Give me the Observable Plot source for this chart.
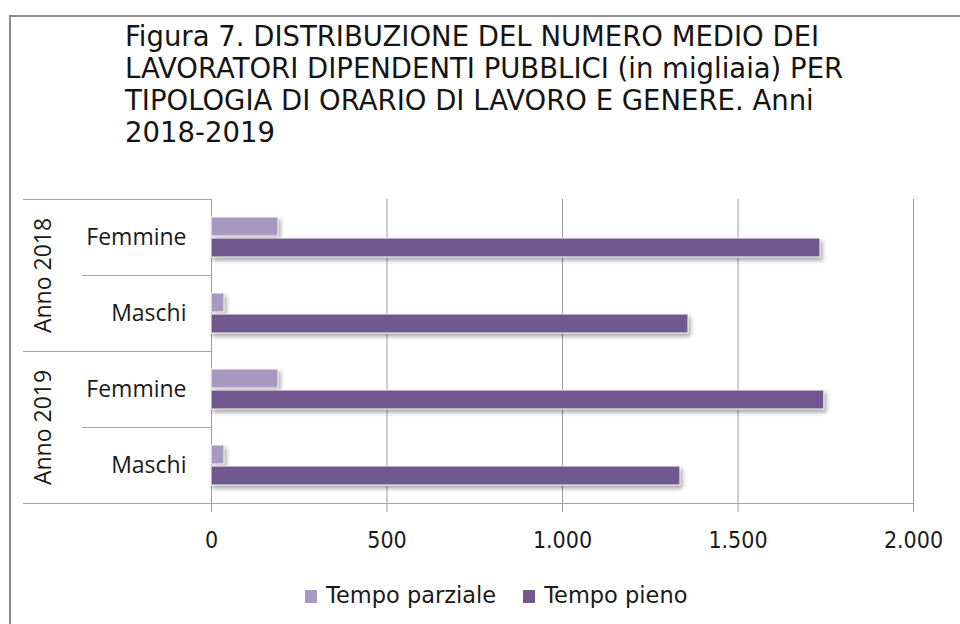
<!DOCTYPE html>
<html>
<head>
<meta charset="utf-8">
<script src="https://cdn.jsdelivr.net/npm/d3@7"></script>
<script src="https://cdn.jsdelivr.net/npm/@observablehq/plot@0.6"></script>
<style>
  html, body { margin: 0; padding: 0; background: #fff; }
  body { width: 960px; height: 624px; overflow: hidden; position: relative; font-family: "DejaVu Sans", sans-serif; color: #1a1a1a; }
  #frame { position: absolute; left: 9px; top: 15px; width: 1000px; height: 700px; border: 2px solid #8c8c8c; box-sizing: border-box; }
  #title { position: absolute; left: 125px; top: 20px; font-size: 27.5px; line-height: 32px; white-space: nowrap; color: #141414; }
  #chart { position: absolute; left: 0; top: 185px; }
  #chart svg { font-stretch: condensed; overflow: visible; }
  #chart g.catlabel text { font-stretch: normal; }
  #legend { position: absolute; left: 305px; top: 581px; display: flex; align-items: center; font-size: 22.5px; line-height: 28px; color: #1a1a1a; }
  #legend .item { display: flex; align-items: center; margin-right: 27px; }
  #legend .sw { width: 12px; height: 13px; margin-right: 9px; margin-top: 2px; }
</style>
</head>
<body>
<div id="frame"></div>
<div id="title"></div>
<div id="chart"></div>
<div id="legend"></div>
<script>
// ---- data ----
const titleLines = [
  "Figura 7. DISTRIBUZIONE DEL NUMERO MEDIO DEI",
  "LAVORATORI DIPENDENTI PUBBLICI (in migliaia) PER",
  "TIPOLOGIA DI ORARIO DI LAVORO E GENERE. Anni",
  "2018-2019"
];
const years = ["Anno 2018", "Anno 2018", "Anno 2019", "Anno 2019"];
const genders = ["Femmine", "Maschi", "Femmine", "Maschi"];
const series = ["Tempo parziale", "Tempo pieno"];
const tempoParziale = [191, 37, 191, 37];
const tempoPieno = [1735, 1359, 1746, 1336];
const tickValues = [0, 500, 1000, 1500, 2000];
const tickLabels = ["0", "500", "1.000", "1.500", "2.000"];
const colors = ["#A899C0", "#71588E"];

// ---- derived tables ----
const rows = years.map((y, i) => ({ row: y + " | " + genders[i], year: y, gender: genders[i] }));
const bars = [];
rows.forEach((r, i) => {
  bars.push({ row: r.row, series: series[0], value: tempoParziale[i] });
  bars.push({ row: r.row, series: series[1], value: tempoPieno[i] });
});

// ---- title ----
const titleEl = document.getElementById("title");
titleLines.forEach(t => { const d = document.createElement("div"); d.textContent = t; titleEl.appendChild(d); });

// ---- chart ----
const plot = Plot.plot({
  width: 960,
  height: 375,
  marginTop: 14,
  marginBottom: 57,
  marginLeft: 211,
  marginRight: 47,
  style: { fontFamily: "DejaVu Sans, sans-serif", fontSize: "23px", color: "#1a1a1a", background: "transparent" },
  x: { domain: [0, 2000], label: null },
  y: { domain: series, axis: null, paddingInner: 0.095, paddingOuter: 0.857 },
  fy: { domain: rows.map(d => d.row), axis: null, padding: 0 },
  color: { domain: series, range: colors },
  marks: [
    Plot.gridX(tickValues, { stroke: "#9b9b9b", strokeOpacity: 1, strokeWidth: 1 }),
    Plot.axisX(tickValues, {
      tickSize: 9, tickPadding: 19, label: null,
      tickFormat: d => tickLabels[tickValues.indexOf(d)],
      stroke: "#9b9b9b", fill: "#1a1a1a", strokeOpacity: 1
    }),
    Plot.barX(bars, { x: "value", y: "series", fy: "row", fill: "series", stroke: "white", strokeWidth: 1 }),
    Plot.text(rows, {
      fy: "row", text: "gender", frameAnchor: "left", textAnchor: "end", dx: -25,
      fontFamily: "Open Sans, sans-serif", fontSize: 23, fill: "#1a1a1a"
    }),
    Plot.text(rows.filter(d => d.gender === "Femmine"), {
      fy: "row", text: "year", frameAnchor: "bottom-left", rotate: -90,
      textAnchor: "middle", lineAnchor: "middle", dx: -168,
      fontFamily: "Open Sans, sans-serif", fontSize: 23, fill: "#1a1a1a"
    })
  ]
});
document.getElementById("chart").appendChild(plot);

const svg = d3.select(plot);
svg.selectAll('g[aria-label="text"]').classed("catlabel", true);
svg.selectAll('g[aria-label="bar"]').style("filter", "drop-shadow(2px 3px 2px rgba(0,0,0,0.35))");

// separators in the category area, positioned with the library's scales
const xs = plot.scale("x");
const fy = plot.scale("fy");
const x0 = xs.apply(0);
const xEnd = xs.apply(2000);
const bw = fy.bandwidth != null ? fy.bandwidth : (fy.step || 76);
const sep = [];
rows.forEach(r => {
  const top = fy.apply(r.row);
  sep.push({ y: top, x1: r.gender === "Femmine" ? x0 - 188 : x0 - 129, x2: x0 });
});
const last = fy.apply(rows[rows.length - 1].row) + bw;
sep.push({ y: last, x1: x0 - 188, x2: xEnd });
svg.append("g").selectAll("line").data(sep).join("line")
  .attr("x1", d => d.x1).attr("x2", d => d.x2)
  .attr("y1", d => Math.round(d.y) + 0.5).attr("y2", d => Math.round(d.y) + 0.5)
  .attr("stroke", "#a6a6a6").attr("stroke-width", 1.2);

// ---- legend ----
const lg = document.getElementById("legend");
series.forEach((s, i) => {
  const it = document.createElement("div"); it.className = "item";
  const sw = document.createElement("div"); sw.className = "sw"; sw.style.background = colors[i];
  const tx = document.createElement("span"); tx.textContent = s;
  it.appendChild(sw); it.appendChild(tx); lg.appendChild(it);
});
</script>
</body>
</html>
